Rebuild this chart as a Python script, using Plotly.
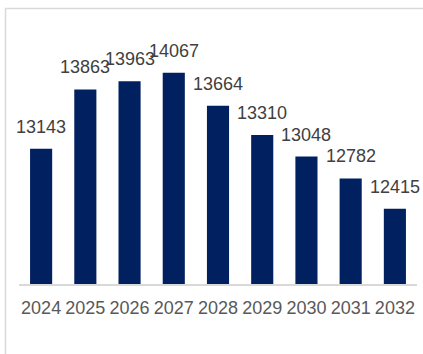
import plotly.graph_objects as go

years = ["2024", "2025", "2026", "2027", "2028", "2029", "2030", "2031", "2032"]
values = [13143, 13863, 13963, 14067, 13664, 13310, 13048, 12782, 12415]

BAR_COLOR = "#002060"
LABEL_COLOR = "#404040"
TICK_COLOR = "#595959"
FONT = "Liberation Sans, Arial, sans-serif"

positions = list(range(len(years)))

fig = go.Figure(
    go.Bar(
        x=positions,
        y=values,
        width=0.5,
        marker=dict(color=BAR_COLOR, line=dict(width=0)),
        customdata=years,
        hovertemplate="%{customdata}: %{y}<extra></extra>",
    )
)

# value labels above each bar
for pos, v in zip(positions, values):
    fig.add_annotation(
        x=pos, y=v, text=str(v), showarrow=False,
        xanchor="center", yanchor="middle", yshift=22,
        font=dict(family=FONT, size=18, color=LABEL_COLOR),
    )

# outer chart frame (top and left edges)
fig.add_shape(
    type="path",
    xref="paper", yref="paper",
    path="M -0.0339,-0.5 L -0.0339,1.1154 L 1.2,1.1154",
    line=dict(color="#d9d9d9", width=1.5),
)

fig.update_layout(
    width=423, height=354,
    margin=dict(l=19, r=6, t=37, b=70, autoexpand=False),
    paper_bgcolor="white", plot_bgcolor="white",
    showlegend=False,
    font=dict(family=FONT, size=18, color=TICK_COLOR),
    xaxis=dict(
        range=[-0.5, len(years) - 0.5],
        tickmode="array", tickvals=positions, ticktext=years,
        showline=True, linecolor="#d9d9d9", linewidth=1.5,
        ticks="", showgrid=False, zeroline=False,
        ticklabelstandoff=7,
        tickfont=dict(family=FONT, size=18, color=TICK_COLOR),
    ),
    yaxis=dict(
        range=[11500, 14500],
        visible=False, showgrid=False, zeroline=False,
    ),
)

fig.write_html("out.html")
